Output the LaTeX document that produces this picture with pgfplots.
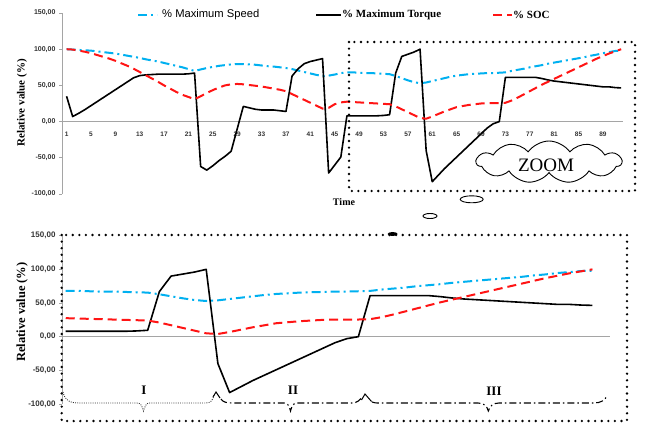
\documentclass[border=0pt]{standalone}
\usepackage{pgfplots}
\pgfplotsset{compat=1.18}
\usepackage{pgfplotstable}
\usepackage{fontspec}
\setmainfont{Liberation Serif}
\newfontfamily\arial{Liberation Sans}
\usetikzlibrary{shapes.symbols}
\definecolor{cblue}{RGB}{0,176,240}
\definecolor{cred}{RGB}{255,20,20}
\definecolor{axgray}{RGB}{165,165,165}

\pgfplotstableread{
t speed torque soc
1 100 35 100
2 99.5 7 99.5
3 99 11.5 98
4 98.5 16.5 96.5
5 98 22 94.5
6 97 27.5 92
7 96 33 89.5
8 95 38.5 87
9 94 44 84
10 92.5 49.5 80.5
11 91 55 77
12 89.5 60.5 73
13 88 63.5 68.5
14 86 64.5 64
15 84.5 65 59.5
16 83 65.5 55
17 81 65.5 50
18 79 65.5 45.5
19 77 65.5 41
20 75 65.5 37
21 72.5 66 34
22 70 67 31
23 72 -62 35
24 74 -67 39.5
25 75.5 -61 43.5
26 77 -54 47
27 78 -48 50
28 79 -41 51.5
29 79.5 -10 52
30 79.5 21 51.5
31 79 19 50.5
32 78.5 17 49.5
33 77.5 16 48.5
34 76.5 16 47
35 76 16 45.5
36 75 15 44
37 74 14 42
38 72.5 63 38
39 70.5 73 34
40 68.5 80 30
41 66.5 83 26
42 64.5 85 22
43 63 87 18
44 63.5 -71 19
45 65 -60 24
46 67 -49 26.5
47 68 8 27.5
48 68 8 27
49 67.5 8 26.5
50 67 8 26
51 67 8 25.5
52 66.5 8 25
53 66 8.5 24.5
54 65.5 9.5 24
55 63 67 21
56 60 90 17
57 57 93 13
58 54.5 96 9
59 53 100 5
60 54 -40 4
61 56 -83 7
62 58 -74 10.5
63 60 -65 14
64 62 -57 17
65 63.5 -49 20
66 64.5 -41 21.5
67 65.5 -33 23
68 66 -25 24
69 66.5 -17 25
70 67 -9 25.5
71 67 -3 25.5
72 67.5 0 25.5
73 68 61 26
74 70 61 29
75 71.5 61 33
76 73 61 37.5
77 75 61 42
78 76.5 61 46.5
79 78 59.5 51
80 80 57.5 55
81 81.5 56 59
82 83 55 63
83 84.5 54 67
84 86 53 71
85 87.5 52 75
86 89 51 79
87 91 50 83
88 92.5 49 87
89 94.5 48 90.5
90 96 48 94
91 97.5 47 97
92 98 46.5 100
}\data

\tikzset{
  spd/.style={cblue, line width=2pt, dash pattern=on 9pt off 4pt on 2pt off 4pt},
  soc/.style={cred, line width=2pt, dash pattern=on 9pt off 5pt},
  trq/.style={black, line width=1.6pt, line join=round},
}
\pgfplotsset{
  base/.style={
    scale only axis,
    ymin=-100, ymax=150,
    axis y line*=left, axis x line*=middle,
    axis line style={axgray, line width=0.6pt},
    ytick={-100,-50,...,150},
    tick align=outside, major tick length=3pt,
    tick style={axgray, line width=0.6pt},
    every major x tick/.style={draw=none},
    /pgf/number format/assume math mode=true,
    yticklabel style={text=black!80,
      /pgf/number format/fixed, /pgf/number format/fixed zerofill,
      /pgf/number format/precision=2, /pgf/number format/use comma,
      /pgf/number format/1000 sep={}},
    xticklabel style={text=black!80},
  },
}

\begin{document}
\begin{tikzpicture}
\useasboundingbox (0pt,0pt) rectangle (645pt,426pt);

% ---------- top chart ----------
\begin{axis}[base,
  at={(62pt,232pt)}, anchor=south west,
  width=561pt, height=181pt,
  xmin=0.25, xmax=92.3,
  xtick={1,5,...,89},
  xticklabel style={font=\arial\bfseries\fontsize{6.5}{7}\selectfont, yshift=-4pt},
  yticklabel style={font=\arial\bfseries\fontsize{7}{8}\selectfont},
]
\addplot[spd] table[x=t,y=speed]{\data};
\addplot[trq] table[x=t,y=torque]{\data};
\addplot[soc] table[x=t,y=soc]{\data};
\end{axis}

% ---------- bottom chart ----------
\begin{axis}[base,
  at={(62pt,22pt)}, anchor=south west,
  width=548pt, height=168.3pt,
  xmin=46.68, xmax=93.5,
  xtick=\empty,
  yticklabel style={font=\arial\bfseries\fontsize{8}{9}\selectfont},
]
\addplot[spd, restrict x to domain=47:92] table[x=t,y=speed]{\data};
\addplot[trq, restrict x to domain=47:92] table[x=t,y=torque]{\data};
\addplot[soc, restrict x to domain=47:92] table[x=t,y=soc]{\data};
\end{axis}

% ---------- annotations (pixel coordinates, y downward) ----------
\begin{scope}[shift={(0pt,426pt)}, x=1pt, y=-1pt]
  % legend
  \draw[spd] (138,15) -- (157,15);
  \node[anchor=west, inner sep=1pt, font=\arial\fontsize{11.2}{13}\selectfont] at (161,15) {\% Maximum Speed};
  \draw[trq] (316,15) -- (341,15);
  \node[anchor=west, inner sep=1pt, font=\bfseries\fontsize{11}{13}\selectfont] at (341,15) {\% Maximum Torque};
  \draw[soc] (493,15) -- (512,15);
  \node[anchor=west, inner sep=1pt, font=\bfseries\fontsize{11}{13}\selectfont] at (512,15) {\% SOC};

  % axis titles
  \node[rotate=90, font=\bfseries\fontsize{11}{13}\selectfont] at (22,103) {Relative value (\%)};
  \node[rotate=90, font=\bfseries\fontsize{12.5}{14}\selectfont] at (22,312) {Relative value (\%)};
  \node[font=\bfseries\fontsize{10}{12}\selectfont] at (344,202) {Time};

  % dotted boxes
  \draw[line width=2.6pt, dash pattern=on 0pt off 6.6pt, line cap=round] (349,42) rectangle (635,191);
  \draw[line width=2.6pt, dash pattern=on 0pt off 6.6pt, line cap=round] (61.7,235) rectangle (627,421);

  % cloud with ZOOM
  \node[cloud, cloud puffs=11, cloud puff arc=110, aspect=3.6, draw, line width=0.9pt, fill=white,
        minimum width=145pt, minimum height=42pt, inner sep=0pt] at (549,162) {};
  \node[font=\fontsize{19}{22}\selectfont] at (546,165) {ZOOM};
  \draw[line width=0.9pt] (471.7,199.3) ellipse (11.5 and 3.5);
  \draw[line width=0.9pt] (430,216) ellipse (7 and 2.5);
  \fill (392.7,234) ellipse (5 and 2);

  % braces
  \draw[gray!40!black, line width=0.9pt, dash pattern=on 0.9pt off 1.3pt]
    (63,392) .. controls (65,401) and (70,403) .. (80,403) -- (137,403)
    .. controls (141,403) and (142,406) .. (143.5,411)
    .. controls (145,406) and (146,403) .. (150,403) -- (206,403)
    .. controls (211,403) and (213,400) .. (214,395);
  \draw[line width=1pt] (213,397) -- (216,392) -- (220,398);
  \draw[line width=1.1pt, dash pattern=on 7pt off 3pt on 1.5pt off 3pt]
    (221,399) .. controls (223,402) and (226,403) .. (232,403) -- (284,403)
    .. controls (288,403) and (289,406) .. (290.5,411)
    .. controls (292,406) and (293,403) .. (297,403) -- (352,403)
    .. controls (357,403) and (360,400) .. (362,397);
  \draw[line width=1pt] (361.5,400) -- (365,394) -- (371.5,401.5);
  \draw[line width=1.1pt, dash pattern=on 7pt off 3pt on 1.5pt off 3pt]
    (372,402) .. controls (374,403) and (376,403) .. (380,403) -- (478,403)
    .. controls (484,403) and (487,406) .. (488.3,411)
    .. controls (490,406) and (493,403) .. (499,403) -- (594,403)
    .. controls (601,403) and (605,400) .. (607,396);

  \node[font=\bfseries\fontsize{13}{15}\selectfont] at (144,390) {I};
  \node[font=\bfseries\fontsize{13}{15}\selectfont] at (293,390) {II};
  \node[font=\bfseries\fontsize{13}{15}\selectfont] at (494,391.5) {III};
\end{scope}
\end{tikzpicture}
\end{document}
